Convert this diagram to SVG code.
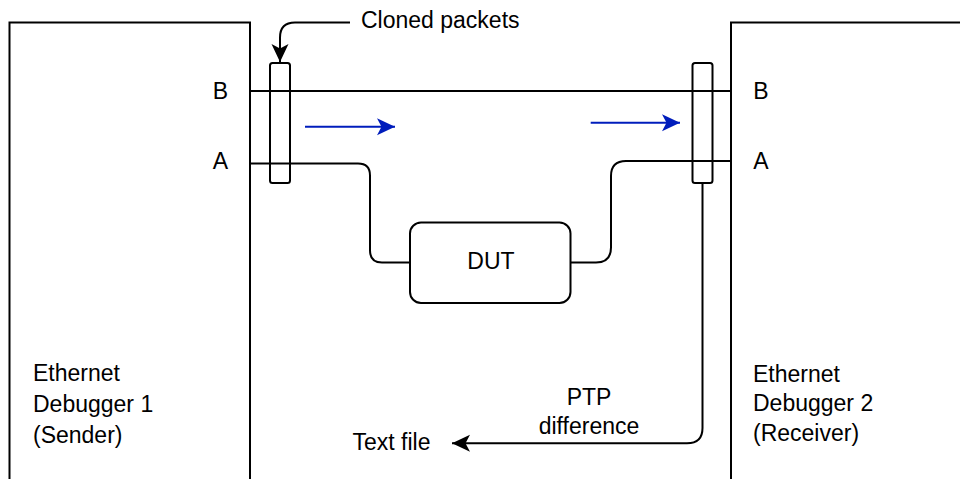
<svg xmlns="http://www.w3.org/2000/svg" width="960" height="479" viewBox="0 0 960 479">
<style>
.box{fill:#fff;stroke:#000;stroke-width:2}
.ln{fill:none;stroke:#000;stroke-width:2}
.blue{fill:none;stroke:#001DBC;stroke-width:2}
text{font-family:"Liberation Sans",Arial,Helvetica,sans-serif;font-size:23px;fill:#000}
.c{text-anchor:middle}
</style>
<defs>
<marker id="ah" markerUnits="userSpaceOnUse" markerWidth="20" markerHeight="20" viewBox="-20 -10 20 20" refX="0" refY="0" orient="auto">
<path d="M0,0 L-18,-8.5 L-13.5,0 L-18,8.5 Z" fill="#000"/>
</marker>
<marker id="ahb" markerUnits="userSpaceOnUse" markerWidth="20" markerHeight="20" viewBox="-20 -10 20 20" refX="0" refY="0" orient="auto">
<path d="M0,0 L-18,-8.5 L-13.5,0 L-18,8.5 Z" fill="#001DBC"/>
</marker>
</defs>
<rect width="960" height="479" fill="#fff"/>
<g id="debugger1">
<rect class="box" x="9.5" y="22.5" width="240.5" height="500"/>
<text x="33" y="381">Ethernet</text>
<text x="33" y="411.5">Debugger 1</text>
<text x="33" y="442.5">(Sender)</text>
<text class="c" x="220.5" y="98.5">B</text>
<text class="c" x="220.5" y="169">A</text>
</g>
<g id="debugger2">
<rect class="box" x="731" y="22.5" width="300" height="500"/>
<text x="753" y="381.5">Ethernet</text>
<text x="753" y="411">Debugger 2</text>
<text x="753" y="441">(Receiver)</text>
<text class="c" x="761" y="99">B</text>
<text class="c" x="761" y="169">A</text>
</g>
<g id="dut">
<rect class="box" x="410" y="222.5" width="160.5" height="80.5" rx="11"/>
<text class="c" x="491" y="269">DUT</text>
</g>
<g id="connectors">
<path class="ln" d="M250,91 H731"/>
<path class="ln" d="M250,163.5 H358 Q370,163.5 370,175.5 V250.5 Q370,262.5 382,262.5 H410"/>
<path class="ln" d="M731,161 H626 Q611,161 611,176 V247.5 Q611,262.5 596,262.5 H570.5"/>
<path class="ln" d="M350,22.5 H295 Q280,22.5 280,37.5 V62" marker-end="url(#ah)"/>
<path class="ln" d="M702.5,183 V428 Q702.5,443.3 687,443.3 H452" marker-end="url(#ah)"/>
<path class="blue" d="M305,126.7 H395" marker-end="url(#ahb)"/>
<path class="blue" d="M590.7,122.7 H680" marker-end="url(#ahb)"/>
</g>
<g id="clone1">
<rect class="box" x="270" y="63" width="20" height="120" rx="2.5" fill-opacity="0"/>
</g>
<g id="clone2">
<rect class="box" x="692.5" y="63" width="20" height="120" rx="2.5" fill-opacity="0"/>
</g>
<g id="labels">
<text x="361" y="28">Cloned packets</text>
<text class="c" x="589" y="405">PTP</text>
<text class="c" x="589" y="433.5">difference</text>
<text x="352.5" y="449.5">Text file</text>
</g>
</svg>
